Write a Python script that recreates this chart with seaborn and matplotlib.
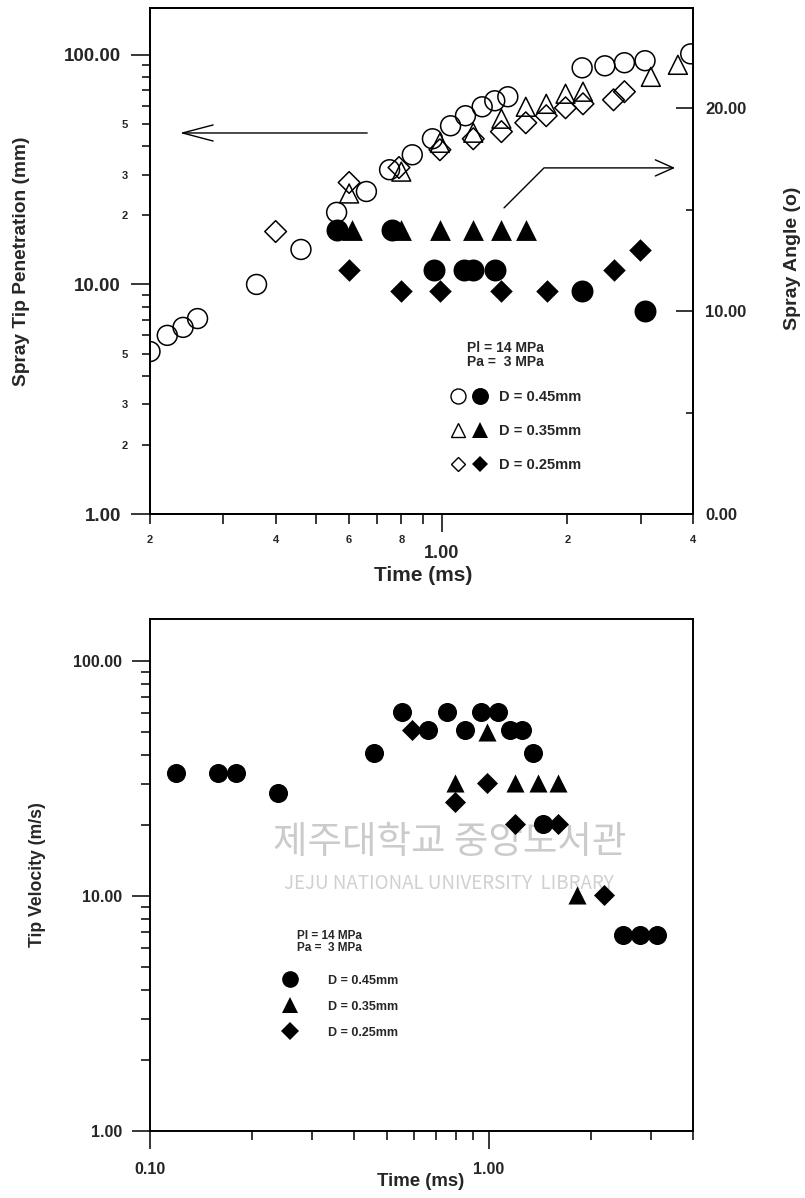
import numpy as np
import pandas as pd
import matplotlib
matplotlib.use("Agg")
import matplotlib.pyplot as plt
import seaborn as sns
from matplotlib.lines import Line2D
from matplotlib.legend_handler import HandlerTuple
from matplotlib.ticker import FixedLocator, FixedFormatter

# ---------------- data ----------------
# Top chart: spray tip penetration (open markers, left axis, mm)
pen_t_045 = [0.20, 0.22, 0.24, 0.26, 0.36, 0.46, 0.56, 0.66, 0.75, 0.85, 0.95,
             1.05, 1.14, 1.25, 1.34, 1.44, 2.17, 2.46, 2.74, 3.07, 3.95]
pen_s_045 = [5.1, 6.0, 6.5, 7.1, 10.0, 14.2, 20.6, 25.4, 31.6, 36.7, 43.1,
             49.1, 54.3, 59.4, 63.1, 65.7, 87.8, 89.6, 92.4, 94.3, 101.0]
pen_t_035 = [0.60, 0.80, 0.99, 1.19, 1.39, 1.59, 1.78, 1.98, 2.18, 3.17, 3.68]
pen_s_035 = [24.9, 31.0, 41.4, 45.8, 52.7, 59.4, 61.2, 67.7, 69.1, 80.2, 90.5]
pen_t_025 = [0.40, 0.60, 0.79, 0.99, 1.19, 1.39, 1.59, 1.78, 1.98, 2.18, 2.58, 2.74]
pen_s_025 = [17.0, 27.8, 32.3, 38.6, 43.1, 46.3, 50.6, 54.3, 58.8, 61.2, 63.7, 69.1]

# Top chart: spray angle (filled markers, right axis, degrees)
ang_t_045 = [0.56, 0.76, 0.96, 1.13, 1.19, 1.34, 2.17, 3.07]
ang_a_045 = [14.0, 14.0, 12.0, 12.0, 12.0, 12.0, 11.0, 10.0]
ang_t_035 = [0.61, 0.80, 0.99, 1.19, 1.39, 1.59]
ang_a_035 = [14.0, 14.0, 14.0, 14.0, 14.0, 14.0]
ang_t_025 = [0.60, 0.80, 0.99, 1.39, 1.79, 2.59, 2.99]
ang_a_025 = [12.0, 11.0, 11.0, 11.0, 11.0, 12.0, 13.0]

# Bottom chart: tip velocity (m/s)
vel_t_045 = [0.119, 0.159, 0.179, 0.238, 0.458, 0.554, 0.66, 0.752, 0.85, 0.95,
             1.06, 1.15, 1.25, 1.35, 1.44, 2.49, 2.79, 3.13]
vel_v_045 = [33.4, 33.4, 33.4, 27.4, 40.6, 60.7, 50.9, 60.7, 50.9, 60.7,
             60.7, 50.9, 50.9, 40.6, 20.2, 6.82, 6.82, 6.82]
vel_t_035 = [0.794, 0.99, 1.19, 1.40, 1.60, 1.82]
vel_v_035 = [30.3, 50.0, 30.3, 30.3, 30.3, 10.1]
vel_t_025 = [0.593, 0.794, 0.99, 1.19, 1.60, 2.19]
vel_v_025 = [50.9, 25.1, 30.3, 20.2, 20.2, 10.1]

legend_labels = ["D = 0.45mm", "D = 0.35mm", "D = 0.25mm"]
cond_text = "Pl = 14 MPa\nPa =  3 MPa"

# tick definitions
top_x_major = [1.0]
top_x_major_lbl = ["1.00"]
top_x_minor = [0.2, 0.3, 0.4, 0.5, 0.6, 0.7, 0.8, 0.9, 2.0, 3.0, 4.0]
top_x_minor_lbl = ["2", "", "4", "", "6", "", "8", "", "2", "", "4"]
log_y_major = [1.0, 10.0, 100.0]
log_y_major_lbl = ["1.00", "10.00", "100.00"]
log_y_minor = [2, 3, 4, 5, 6, 7, 8, 9, 20, 30, 40, 50, 60, 70, 80, 90]
top_y_minor_lbl = ["2", "3", "", "5", "", "", "", "", "2", "3", "", "5", "", "", "", ""]
ang_major = [0.0, 10.0, 20.0]
ang_major_lbl = ["0.00", "10.00", "20.00"]
ang_minor = [5.0, 15.0]
bot_x_major = [0.1, 1.0]
bot_x_major_lbl = ["0.10", "1.00"]
bot_x_minor = [0.2, 0.3, 0.4, 0.5, 0.6, 0.7, 0.8, 0.9, 2.0, 3.0, 4.0]

# ---------------- style ----------------
sns.set_style("ticks")
plt.rcParams["font.family"] = ["Liberation Sans", "DejaVu Sans"]
plt.rcParams["font.weight"] = "bold"
plt.rcParams["axes.labelweight"] = "bold"
plt.rcParams["axes.linewidth"] = 1.4
plt.rcParams["axes.edgecolor"] = "black"

W, H = 805, 1198
fig = plt.figure(figsize=(W / 100, H / 100), dpi=100)
fig.patch.set_facecolor("white")


def px_axes(l, t, r, b):
    return fig.add_axes([l / W, 1 - b / H, (r - l) / W, (b - t) / H])


ax1 = px_axes(150, 8, 693, 514)
ax2 = px_axes(150, 619, 693, 1131)

# ---------------- top chart ----------------
open_kw = dict(facecolor="none", edgecolor="black", linewidth=1.1, legend=False)
sns.scatterplot(x=pen_t_045, y=pen_s_045, ax=ax1, marker="o", s=205, **open_kw)
sns.scatterplot(x=pen_t_035, y=pen_s_035, ax=ax1, marker="^", s=185, **open_kw)
sns.scatterplot(x=pen_t_025, y=pen_s_025, ax=ax1, marker="D", s=122, **open_kw)

ax1r = ax1.twinx()
fill_kw = dict(color="black", edgecolor="black", linewidth=0, legend=False)
sns.scatterplot(x=ang_t_045, y=ang_a_045, ax=ax1r, marker="o", s=250, **fill_kw)
sns.scatterplot(x=ang_t_035, y=ang_a_035, ax=ax1r, marker="^", s=225, **fill_kw)
sns.scatterplot(x=ang_t_025, y=ang_a_025, ax=ax1r, marker="D", s=132, **fill_kw)

ax1.set_xscale("log")
ax1.set_yscale("log")
ax1.set_xlim(0.2, 4.0)
ax1.set_ylim(1.0, 160.0)
ax1r.set_ylim(0.0, 24.93)

ax1.xaxis.set_major_locator(FixedLocator(top_x_major))
ax1.xaxis.set_major_formatter(FixedFormatter(top_x_major_lbl))
ax1.xaxis.set_minor_locator(FixedLocator(top_x_minor))
ax1.xaxis.set_minor_formatter(FixedFormatter(top_x_minor_lbl))
ax1.yaxis.set_major_locator(FixedLocator(log_y_major))
ax1.yaxis.set_major_formatter(FixedFormatter(log_y_major_lbl))
ax1.yaxis.set_minor_locator(FixedLocator(log_y_minor))
ax1.yaxis.set_minor_formatter(FixedFormatter(top_y_minor_lbl))

ax1.tick_params(axis="x", which="major", direction="out", length=13, width=1.3,
                pad=9, labelsize=13, top=False)
ax1.tick_params(axis="x", which="minor", direction="out", length=7, width=1.3,
                pad=8, labelsize=8, top=False)
ax1.tick_params(axis="y", which="major", direction="out", length=14, width=1.3,
                pad=7, labelsize=13.5, right=False)
ax1.tick_params(axis="y", which="minor", direction="out", length=6, width=1.3,
                pad=10, labelsize=8, right=False)

ax1r.yaxis.set_major_locator(FixedLocator(ang_major))
ax1r.yaxis.set_major_formatter(FixedFormatter(ang_major_lbl))
ax1r.yaxis.set_minor_locator(FixedLocator(ang_minor))
ax1r.tick_params(axis="y", which="major", direction="in", length=12, width=1.3,
                 pad=8.6, labelsize=12)
ax1r.tick_params(axis="y", which="minor", direction="in", length=5, width=1.3)
ax1r.set_ylabel("")
ax1.set_xlabel("")
ax1.set_ylabel("")

for a in (ax1, ax1r, ax2):
    for sp in a.spines.values():
        sp.set_visible(True)
        sp.set_linewidth(1.4)
        sp.set_color("black")

fig.text(22 / W, 1 - 261 / H, "Spray Tip Penetration (mm)", rotation=90,
         ha="center", va="center", fontsize=13.8, fontweight="bold")
fig.text(792 / W, 1 - 258 / H, "Spray Angle (o)", rotation=90,
         ha="center", va="center", fontsize=14, fontweight="bold")
fig.text(423 / W, 1 - 575 / H, "Time (ms)", ha="center", va="center",
         fontsize=15, fontweight="bold")

# arrows
ax1.annotate("", xy=(0.055, 0.753), xytext=(0.40, 0.753), xycoords="axes fraction",
             arrowprops=dict(arrowstyle="->,head_length=2.2,head_width=0.58",
                             mutation_scale=10, lw=1.0, color="black",
                             shrinkA=0, shrinkB=0))
ax1.annotate("", xy=(0.967, 0.684), xytext=(0.652, 0.605), xycoords="axes fraction",
             arrowprops=dict(arrowstyle="->,head_length=1.3,head_width=0.58",
                             mutation_scale=10, lw=1.0, color="black",
                             shrinkA=0, shrinkB=0,
                             connectionstyle="angle,angleA=45,angleB=0,rad=0"))

# top legend
ax1r.text(0.584, 0.342, cond_text, transform=ax1r.transAxes, ha="left", va="top",
          fontsize=10, fontweight="bold", linespacing=1.05)
top_handles = [
    (Line2D([], [], ls="none", marker="o", ms=10.8, mfc="none", mec="k", mew=1.0),
     Line2D([], [], ls="none", marker="o", ms=12.2, mfc="k", mec="k", mew=0)),
    (Line2D([], [], ls="none", marker="^", ms=10, mfc="none", mec="k", mew=1.0),
     Line2D([], [], ls="none", marker="^", ms=11, mfc="k", mec="k", mew=0)),
    (Line2D([], [], ls="none", marker="D", ms=7.3, mfc="none", mec="k", mew=1.0),
     Line2D([], [], ls="none", marker="D", ms=8.0, mfc="k", mec="k", mew=0)),
]
ax1r.legend(top_handles, legend_labels, handler_map={tuple: HandlerTuple(ndivide=None, pad=0)},
            loc="upper left", bbox_to_anchor=(0.547, 0.245), frameon=False,
            prop={"size": 10.5, "weight": "bold"}, handlelength=3.0, handletextpad=0.55,
            labelspacing=1.38, borderpad=0, borderaxespad=0)

# ---------------- bottom chart ----------------
# watermark
ax2.text(0.551, 0.5625, "제주대학교 중앙도서관", transform=ax2.transAxes,
         ha="center", va="center", fontsize=27, color="#cbcbcb",
         family=["Noto Sans CJK KR", "DejaVu Sans"], fontweight="normal", zorder=0)
ax2.text(0.551, 0.484, "JEJU NATIONAL UNIVERSITY  LIBRARY", transform=ax2.transAxes,
         ha="center", va="center", fontsize=13.5, color="#d0d0d0",
         family=["Noto Sans CJK KR", "DejaVu Sans"], fontweight="normal", zorder=0)

bfill = dict(color="black", edgecolor="black", linewidth=0, legend=False, zorder=3)
sns.scatterplot(x=vel_t_045, y=vel_v_045, ax=ax2, marker="o", s=188, **bfill)
sns.scatterplot(x=vel_t_035, y=vel_v_035, ax=ax2, marker="^", s=169, **bfill)
sns.scatterplot(x=vel_t_025, y=vel_v_025, ax=ax2, marker="D", s=115, **bfill)

ax2.set_xscale("log")
ax2.set_yscale("log")
ax2.set_xlim(0.1, 4.0)
ax2.set_ylim(1.0, 151.0)
ax2.xaxis.set_major_locator(FixedLocator(bot_x_major))
ax2.xaxis.set_major_formatter(FixedFormatter(bot_x_major_lbl))
ax2.xaxis.set_minor_locator(FixedLocator(bot_x_minor))
ax2.xaxis.set_minor_formatter(FixedFormatter([""] * len(bot_x_minor)))
ax2.yaxis.set_major_locator(FixedLocator(log_y_major))
ax2.yaxis.set_major_formatter(FixedFormatter(log_y_major_lbl))
ax2.yaxis.set_minor_locator(FixedLocator(log_y_minor))
ax2.yaxis.set_minor_formatter(FixedFormatter([""] * len(log_y_minor)))
ax2.tick_params(axis="x", which="major", direction="out", length=13, width=1.3,
                pad=9, labelsize=11.5, top=False)
ax2.tick_params(axis="x", which="minor", direction="out", length=6.5, width=1.3, top=False)
ax2.tick_params(axis="y", which="major", direction="out", length=13, width=1.3,
                pad=7, labelsize=11.5, right=False)
ax2.tick_params(axis="y", which="minor", direction="out", length=6.5, width=1.3, right=False)
ax2.set_xlabel("")
ax2.set_ylabel("")

fig.text(38 / W, 1 - 875 / H, "Tip Velocity (m/s)", rotation=90,
         ha="center", va="center", fontsize=12.7, fontweight="bold")
fig.text(421 / W, 1 - 1182 / H, "Time (ms)", ha="center", va="center",
         fontsize=13.4, fontweight="bold")

ax2.text(0.271, 0.393, cond_text, transform=ax2.transAxes, ha="left", va="top",
         fontsize=8.5, fontweight="bold", linespacing=1.05)
bot_handles = [
    Line2D([], [], ls="none", marker="o", ms=12, mfc="k", mec="k", mew=0),
    Line2D([], [], ls="none", marker="^", ms=12, mfc="k", mec="k", mew=0),
    Line2D([], [], ls="none", marker="D", ms=9.0, mfc="k", mec="k", mew=0),
]
ax2.legend(bot_handles, legend_labels, loc="upper left", bbox_to_anchor=(0.235, 0.305),
           frameon=False, prop={"size": 9, "weight": "bold"}, handlelength=2.0,
           handletextpad=2.0, labelspacing=1.12, borderpad=0, borderaxespad=0)

fig.savefig("out.png", dpi=100, facecolor="white")
